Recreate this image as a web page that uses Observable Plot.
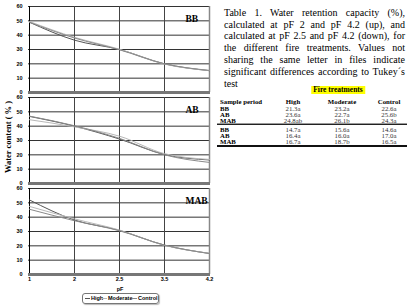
<!DOCTYPE html>
<html><head><meta charset="utf-8">
<script src="https://cdn.jsdelivr.net/npm/d3@7"></script>
<script src="https://cdn.jsdelivr.net/npm/@observablehq/plot@0.6"></script>
<style>
body{margin:0;background:#fff;}
#wrap{position:relative;width:407px;height:306px;overflow:hidden;font-family:"Liberation Serif","Times New Roman",serif;color:#000;}
#chart{position:absolute;left:0;top:0;}
.abs{position:absolute;white-space:nowrap;}
.cap{position:absolute;left:224px;width:181px;font-size:10px;line-height:11px;white-space:nowrap;text-align:justify;text-align-last:justify;}
.cell{position:absolute;font-size:6.8px;line-height:7px;white-space:nowrap;transform:translate(-50%,-50%);}
.hline{position:absolute;left:217px;width:190px;}
#legend{position:absolute;left:82px;top:293px;width:75px;height:9px;border:1px solid #777;border-radius:3px;box-shadow:1px 1px 1px #bbb;font-family:"Liberation Sans",Arial,sans-serif;font-weight:bold;font-size:5.5px;line-height:9px;}
#legend .item{position:absolute;top:0;white-space:nowrap;}
#legend .sw{position:absolute;top:4px;width:5px;height:1px;}
</style></head><body><div id="wrap"></div>
<script>
// x categories (pF) and panel / series names
const pF = ["1", "2", "2.5", "3.5", "4.2"];
const periods = ["BB", "AB", "MAB"];
const treatments = ["High", "Moderate", "Control"];
const yTicks = [0, 10, 20, 30, 40, 50, 60];
const colors = ["#555555", "#b8b8b8", "#8a8a8a"];

// series values (water content %) per sample period and treatment
const bbHigh = [49, 36.5, 30, 20, 15.2];
const bbModerate = [49.5, 38.5, 30.2, 19.8, 15.3];
const bbControl = [49, 38, 29.8, 20, 15.4];
const abHigh = [46.8, 40, 31, 20.2, 16.4];
const abModerate = [44.5, 39.5, 33, 20.8, 16.8];
const abControl = [47, 40.3, 31.5, 20, 14.7];
const mabHigh = [52, 38, 30.8, 20.5, 14.7];
const mabModerate = [47.5, 38.8, 31, 20.3, 14.8];
const mabControl = [45.5, 37.5, 30.5, 20.5, 14.6];

// table
const tableHeader = ["Sample period", "High", "Moderate", "Control"];
const rowLabels = ["BB", "AB", "MAB", "BB", "AB", "MAB"];
const colHigh = ["21.3a", "23.6a", "24.8ab", "14.7a", "16.4a", "16.7a"];
const colModerate = ["23.2a", "22.7a", "26.1b", "15.6a", "16.0a", "18.7b"];
const colControl = ["22.6a", "25.6b", "24.3a", "14.6a", "17.0a", "16.5a"];
const captionLines = [
  "Table 1. Water retention capacity (%),",
  "calculated at pF  2 and pF 4.2 (up), and",
  "calculated at pF 2.5  and pF 4.2 (down), for",
  "the different fire treatments. Values not",
  "sharing the same letter in files indicate",
  "significant differences according to Tukey´s",
  "test"
];

const seriesTable = {
  BB: [bbHigh, bbModerate, bbControl],
  AB: [abHigh, abModerate, abControl],
  MAB: [mabHigh, mabModerate, mabControl]
};
const data = [];
for (const p of periods) {
  treatments.forEach((t, i) => {
    seriesTable[p][i].forEach((v, j) => data.push({period: p, treatment: t, pF: pF[j], v}));
  });
}

const wrap = document.getElementById("wrap");

const chart = Plot.plot({
  width: 215, height: 306,
  marginLeft: 28, marginRight: 5, marginTop: 6, marginBottom: 32,
  style: {fontFamily: "'Liberation Sans', Arial, sans-serif", fontSize: "5.5px", fontWeight: "bold", background: "transparent", color: "#000"},
  x: {type: "point", domain: pF, padding: 0, label: null, tickSize: 0, tickPadding: 3},
  y: {domain: [0, 60], ticks: yTicks, label: null, tickSize: 0, tickPadding: 6},
  fy: {domain: periods, padding: 0.055, axis: null, label: null},
  color: {domain: treatments, range: colors},
  marks: [
    Plot.ruleY(yTicks.filter(d => d > 0), {stroke: "#333", strokeWidth: 1}),
    Plot.ruleX(pF.slice(1, 4), {stroke: "#444", strokeWidth: 1}),
    Plot.ruleX(pF.slice(4), {stroke: "#888", strokeWidth: 1.5}),
    Plot.ruleX(pF.slice(0, 1), {stroke: "#000", strokeWidth: 1}),
    Plot.ruleY([0], {stroke: "#777", strokeWidth: 3}),
    Plot.line(data, {x: "pF", y: "v", fy: "period", z: "treatment", stroke: "treatment", curve: "monotone-x", strokeWidth: 1}),
    Plot.text(periods, {fy: d => d, text: d => d, frameAnchor: "top-left", dx: 157, dy: 9, textAnchor: "start", fontFamily: "'Liberation Serif', 'Times New Roman', serif", fontSize: 9.5, fontWeight: "bold", fill: "#000"})
  ]
});
chart.id = "chart";
wrap.appendChild(chart);

// y-axis title
const ylab = document.createElement("div");
ylab.className = "abs";
ylab.textContent = "Water content ( % )";
Object.assign(ylab.style, {left: "8px", top: "137px", transform: "translate(-50%,-50%) rotate(-90deg)", fontWeight: "bold", fontSize: "8.5px"});
wrap.appendChild(ylab);

// x-axis title
const xlab = document.createElement("div");
xlab.className = "abs";
xlab.textContent = "pF";
Object.assign(xlab.style, {left: "120px", top: "289px", transform: "translate(-50%,-50%)", fontFamily: "'Liberation Sans', Arial, sans-serif", fontWeight: "bold", fontSize: "5.5px"});
wrap.appendChild(xlab);

// legend
const leg = document.createElement("div");
leg.id = "legend";
const legX = [2, 19, 49];
treatments.forEach((t, i) => {
  const sw = document.createElement("div");
  sw.className = "sw";
  sw.style.left = legX[i] + "px";
  sw.style.background = colors[i];
  leg.appendChild(sw);
  const s = document.createElement("div");
  s.className = "item";
  s.style.left = (legX[i] + 6) + "px";
  s.textContent = t;
  leg.appendChild(s);
});
wrap.appendChild(leg);

// caption
captionLines.forEach((line, i) => {
  const d = document.createElement("div");
  d.className = "cap";
  d.style.top = (6.8 + i * 11.8) + "px";
  if (i === captionLines.length - 1) d.style.textAlignLast = "left";
  d.textContent = line;
  wrap.appendChild(d);
});

// "Fire treatments" header
const ft = document.createElement("div");
ft.className = "abs";
ft.textContent = "Fire treatments";
Object.assign(ft.style, {left: "338px", top: "90px", transform: "translate(-50%,-50%)", background: "#ffff00", fontWeight: "bold", fontSize: "7.5px", lineHeight: "8px", padding: "0 2px"});
wrap.appendChild(ft);

// table cells
const colX = [220, 293, 342, 389];
const headerY = 101;
const rowY = [108.3, 114.3, 120.3, 129, 135, 141];
tableHeader.forEach((h, j) => {
  const c = document.createElement("div");
  c.className = "cell";
  c.textContent = h;
  c.style.fontWeight = "bold";
  c.style.top = headerY + "px";
  if (j === 0) { c.style.left = colX[0] + "px"; c.style.transform = "translate(0,-50%)"; }
  else c.style.left = colX[j] + "px";
  wrap.appendChild(c);
});
const cols = [rowLabels, colHigh, colModerate, colControl];
rowLabels.forEach((r, i) => {
  cols.forEach((col, j) => {
    const c = document.createElement("div");
    c.className = "cell";
    c.textContent = col[i];
    c.style.top = rowY[i] + "px";
    if (j === 0) { c.style.left = colX[0] + "px"; c.style.transform = "translate(0,-50%)"; c.style.fontWeight = "bold"; }
    else { c.style.left = colX[j] + "px"; c.style.color = "#333"; }
    wrap.appendChild(c);
  });
});
// table rules
[[123.3, 1, "#999"], [124.3, 1.2, "#222"], [145.3, 1.5, "#111"]].forEach(([y, h, col]) => {
  const l = document.createElement("div");
  l.className = "hline";
  Object.assign(l.style, {top: y + "px", height: h + "px", background: col});
  wrap.appendChild(l);
});
</script></body></html>
